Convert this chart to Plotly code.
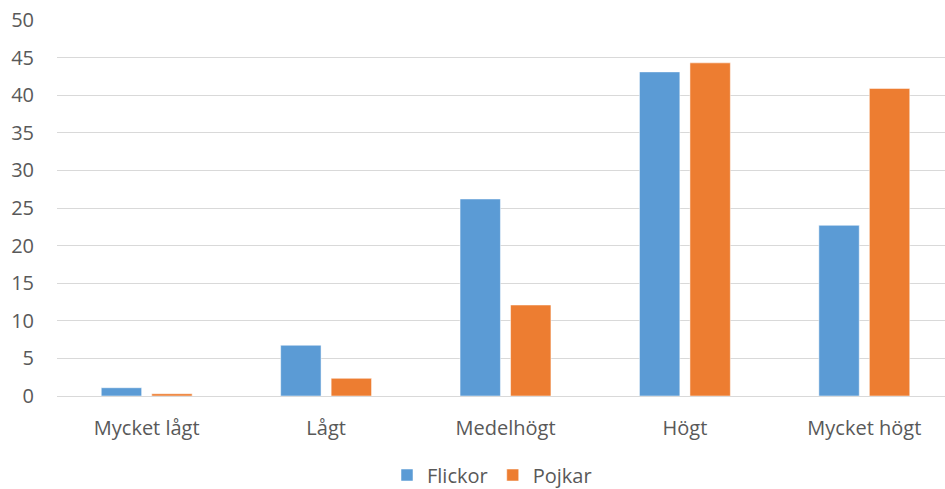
import plotly.graph_objects as go

categories = ["Mycket lågt", "Lågt", "Medelhögt", "Högt", "Mycket högt"]
flickor = [1.1, 6.75, 26.2, 43.1, 22.7]
pojkar = [0.3, 2.35, 12.1, 44.3, 40.9]
y_ticks = [0, 5, 10, 15, 20, 25, 30, 35, 40, 45, 50]

FONT = "Open Sans"
TEXT_COLOR = "#595959"
SIZE = 20

fig = go.Figure()
fig.add_trace(go.Bar(
    name="Flickor", x=categories, y=flickor,
    marker=dict(color="#5B9BD5", line=dict(color="rgba(255,255,255,0.5)", width=1)),
))
fig.add_trace(go.Bar(
    name="Pojkar", x=categories, y=pojkar,
    marker=dict(color="#ED7D31", line=dict(color="rgba(255,255,255,0.5)", width=1)),
))

fig.update_layout(
    width=945, height=489,
    margin=dict(l=57, r=0, t=20, b=93),
    paper_bgcolor="white", plot_bgcolor="white",
    barmode="group", bargap=0.437, bargroupgap=0.2,
    font=dict(family=FONT, size=SIZE, color=TEXT_COLOR),
    xaxis=dict(
        range=[-0.5, -0.5 + 888 / 179.4],
        showgrid=False, showline=False, ticks="",
        ticklabelstandoff=18,
        tickfont=dict(size=SIZE, color=TEXT_COLOR),
    ),
    yaxis=dict(
        range=[0, 50], tickvals=y_ticks,
        showgrid=True, gridcolor="#D9D9D9", gridwidth=1.3,
        zeroline=True, zerolinecolor="#D9D9D9", zerolinewidth=1.3,
        showline=False, ticks="", ticklabelstandoff=22,
        tickfont=dict(size=SIZE, color=TEXT_COLOR),
    ),
    legend=dict(
        orientation="h", xref="container", yref="container",
        x=492 / 945, xanchor="center", y=14 / 489, yanchor="middle",
        font=dict(size=SIZE, color=TEXT_COLOR),
        itemwidth=30, tracegroupgap=0,
    ),
    showlegend=True,
)

fig.write_html("out.html")
